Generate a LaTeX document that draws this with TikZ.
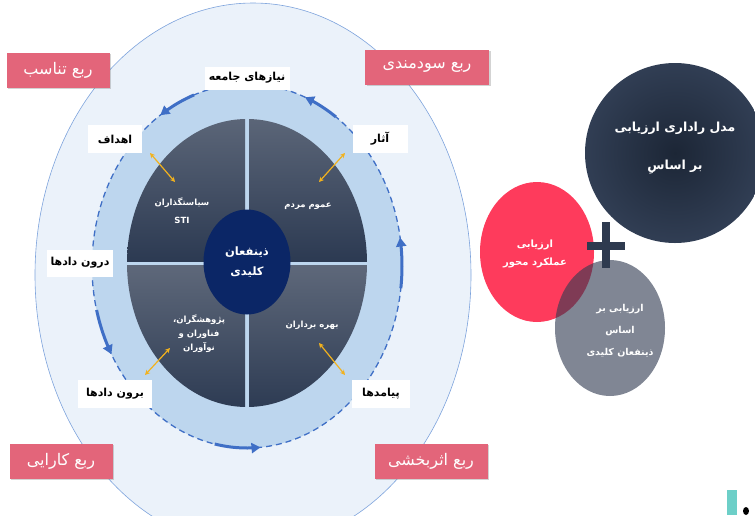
\documentclass[tikz,border=0pt]{standalone}
\usepackage{fontspec}
\usetikzlibrary{shadows,arrows.meta,shapes.geometric}
\TeXXeTstate=1
\newfontfamily\fa[Script=Arabic]{DejaVu Sans}
\newcommand{\rl}[1]{\beginR #1\endR}
\definecolor{outerfill}{HTML}{EBF2FA}
\definecolor{outerline}{HTML}{7DA3DC}
\definecolor{midfill}{HTML}{BDD6EE}
\definecolor{dashblue}{HTML}{3F6FC6}
\definecolor{quadtop}{HTML}{5E687A}
\definecolor{quadmid}{HTML}{3B485F}
\definecolor{quadbot}{HTML}{2C3A52}
\definecolor{navy}{HTML}{0B2666}
\definecolor{pinkc}{HTML}{E3657A}
\definecolor{redc}{HTML}{FE3B5C}
\definecolor{grayc}{HTML}{323C52}
\definecolor{darkin}{HTML}{1C2636}
\definecolor{darkout}{HTML}{313E54}
\definecolor{plusc}{HTML}{2E3A4F}
\definecolor{yel}{HTML}{F2B21E}
\definecolor{teal}{HTML}{6DCFC8}
\tikzset{
  lbl/.style={fill=white, inner sep=0pt, text=black, font=\fa\bfseries\fontsize{11}{13}\selectfont},
  pinklbl/.style={fill=pinkc, inner sep=0pt, text=white, minimum height=35pt,
    font=\fa\fontsize{16}{18}\selectfont,
    drop shadow={opacity=0.35, shadow xshift=1.5pt, shadow yshift=-1.5pt}},
  qtxt/.style={text=white, align=center, inner sep=0pt, font=\fa\bfseries\fontsize{8.5}{14}\selectfont},
  flow/.style={draw=dashblue, line width=3pt, -{Triangle[length=9pt,width=10pt]}},
  yarrow/.style={draw=yel, line width=1.2pt, {Stealth[length=5pt,width=5pt]}-{Stealth[length=5pt,width=5pt]}},
  wtxt/.style={text=white, align=center, inner sep=0pt},
}
\begin{document}
\begin{tikzpicture}[x=1pt,y=-1pt]
\useasboundingbox (0,0) rectangle (755,515);
% outer ellipse
\fill[outerfill] (253,275) ellipse [x radius=218, y radius=272];
\draw[outerline, line width=0.6pt] (253,275) ellipse [x radius=218, y radius=272];
% middle ellipse
\fill[midfill] (247,266) ellipse [x radius=155, y radius=182];
\draw[dashblue, line width=1.3pt, dash pattern=on 6pt off 4pt] (247,266) ellipse [x radius=155, y radius=182];
% flow arrows
\draw[flow] plot[domain=250:236, samples=15] ({247+155*cos(\x)},{266+182*sin(\x)});
\draw[flow] plot[domain=305:292, samples=15] ({247+155*cos(\x)},{266+182*sin(\x)});
\draw[flow] plot[domain=166:151, samples=15] ({247+155*cos(\x)},{266+182*sin(\x)});
\draw[flow] plot[domain=102:85, samples=15] ({247+155*cos(\x)},{266+182*sin(\x)});
\draw[flow] plot[domain=7:-9, samples=15] ({247+155*cos(\x)},{266+182*sin(\x)});
% inner quadrants
\begin{scope}
\clip (247,263) ellipse [x radius=120, y radius=144];
\shade[top color=quadtop, middle color=quadmid, bottom color=quadbot] (120,110) rectangle (245,261);
\shade[top color=quadtop, middle color=quadmid, bottom color=quadbot] (249,110) rectangle (372,261);
\shade[top color=quadtop, middle color=quadmid, bottom color=quadbot] (120,265) rectangle (245,412);
\shade[top color=quadtop, middle color=quadmid, bottom color=quadbot] (249,265) rectangle (372,412);
\end{scope}
% center
\node[ellipse, fill=navy, minimum width=87pt, minimum height=105pt, inner sep=0pt,
  wtxt, font=\fa\bfseries\fontsize{11.5}{20}\selectfont] (core) at (247,262) {\rl{ذینفعان}\\\rl{کلیدی}};
% quadrant texts
\node[qtxt, font=\fa\bfseries\fontsize{8.5}{18}\selectfont] (tl) at (182,211) {\rl{سیاستگذاران}\\STI};
\node[qtxt] (tr) at (308,206) {\rl{عموم مردم}};
\node[qtxt] (bl) at (199,334) {\rl{پژوهشگران،}\\\rl{فناوران و}\\\rl{نوآوران}};
\node[qtxt] (br) at (312,325) {\rl{بهره برداران}};
% labels
\node[lbl, minimum width=85pt, minimum height=23pt] (needs) at (247,78) {\rl{نیازهای جامعه}};
\node[lbl, minimum width=54pt, minimum height=28pt] (goals) at (115,139) {\rl{اهداف}};
\node[lbl, minimum width=55pt, minimum height=28pt] (impacts) at (380,139) {\rl{آثار}};
\node[lbl, minimum width=66pt, minimum height=27pt] (inputs) at (80,263) {\rl{درون دادها}};
\node[lbl, minimum width=74pt, minimum height=28pt] (outputs) at (115,394) {\rl{برون دادها}};
\node[lbl, minimum width=58pt, minimum height=28pt] (outcomes) at (381,394) {\rl{پیامدها}};
% yellow arrows
\coordinate (g1) at (150,153); \coordinate (g2) at (175,182);
\coordinate (i1) at (345,153); \coordinate (i2) at (319,182);
\coordinate (o1) at (170,348); \coordinate (o2) at (145,375);
\coordinate (p1) at (319,343); \coordinate (p2) at (345,375);
\draw[yarrow] (g1) -- (g2);
\draw[yarrow] (i1) -- (i2);
\draw[yarrow] (o1) -- (o2);
\draw[yarrow] (p1) -- (p2);
% pink quadrant labels
\node[pinklbl, minimum width=103pt] (q1) at (58,70) {\rl{ربع تناسب}};
\node[pinklbl, minimum width=124pt] (q2) at (427,67) {\rl{ربع سودمندی}};
\node[pinklbl, minimum width=103pt] (q3) at (61,461) {\rl{ربع کارایی}};
\node[pinklbl, minimum width=113pt] (q4) at (431,461) {\rl{ربع اثربخشی}};
% right part
\node[circle, minimum size=180pt, inner sep=0pt, inner color=darkin, outer color=darkout] (model) at (675,153) {};
\node[wtxt, font=\fa\bfseries\fontsize{12.5}{15}\selectfont] (m1) at (675,128) {\rl{مدل راداری ارزیابی}};
\node[wtxt, font=\fa\bfseries\fontsize{12.5}{15}\selectfont] (m2) at (675,167) {\rl{بر اساسِ}};
\node[ellipse, fill=redc, minimum width=114pt, minimum height=140pt, inner sep=0pt] (perf) at (537,252) {};
\node[wtxt, font=\fa\bfseries\fontsize{10}{18}\selectfont] (perft) at (535,254) {\rl{ارزیابی}\\\rl{عملکرد محور}};
\node[ellipse, fill=grayc, fill opacity=0.62, minimum width=110pt, minimum height=136pt, inner sep=0pt] (stake) at (610,328) {};
\node[wtxt, font=\fa\bfseries\fontsize{9.5}{22}\selectfont] (staket) at (620,331) {\rl{ارزیابی بر}\\\rl{اساس}\\\rl{ذینفعان کلیدی}};
\fill[plusc] (587,242) rectangle (625,250);
\fill[plusc] (602,222) rectangle (610,268);
% corner marks
\fill[teal] (727,490) rectangle (737,515);
\fill[black] (746,511) ellipse [x radius=3, y radius=4];
\end{tikzpicture}
\end{document}
